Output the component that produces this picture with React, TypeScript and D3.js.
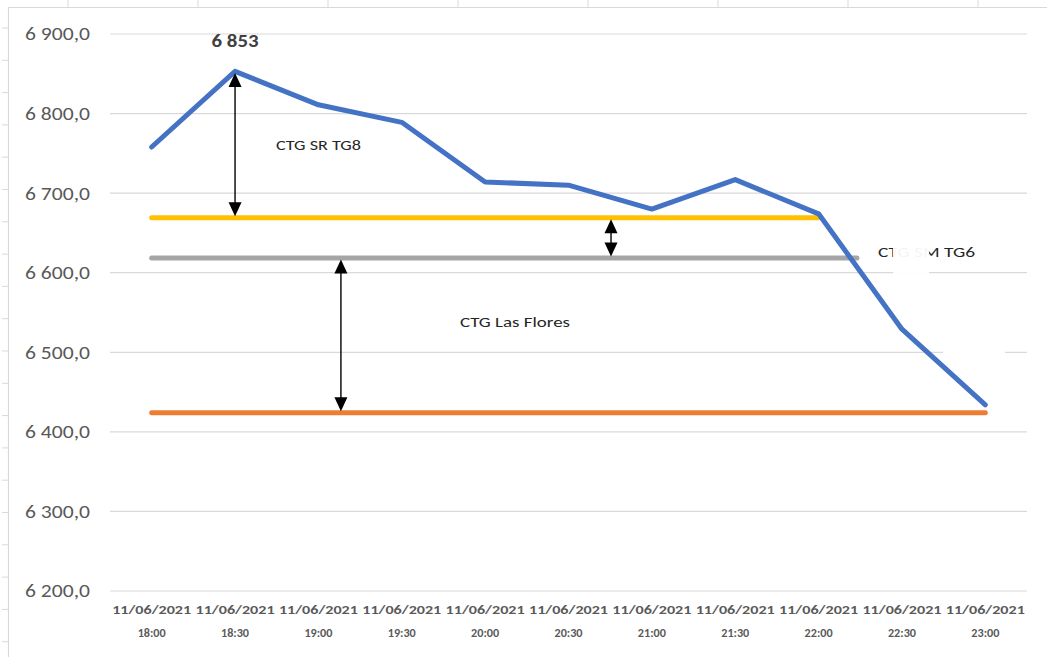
import React from "react";
import * as d3 from "d3";

const categories = ["18:00","18:30","19:00","19:30","20:00","20:30","21:00","21:30","22:00","22:30","23:00"];
const dateLabel = "11/06/2021";
const demand = [6758, 6853, 6811, 6789, 6714, 6710, 6680, 6717, 6674, 6529, 6434];
const yTicks = [6200, 6300, 6400, 6500, 6600, 6700, 6800, 6900];
const peakLabel = "6 853";
// reference levels: value, start index, end index
const levelNames = ["CTG SR TG8", "CTG SM TG6", "CTG Las Flores"];
const levelValues = [6669, 6618.5, 6424];
const levelStart = [0, 0, 0];
const levelEnd = [8, 8.46, 10];
const levelColors = ["#FFC000", "#A5A5A5", "#ED7D31"];
// arrows: category index position, from value, to value
const arrowIdx = [1, 5.51, 2.27];
const arrowFrom = [6853, 6669, 6618.5];
const arrowTo = [6669, 6618.5, 6424];

const W = 1047, H = 657;
const fmtTick = (v: number) => {
  const s = v.toFixed(1).replace(".", ",");
  return s.replace(/^(\d)(\d{3})/, "$1 $2");
};

export default function App() {
  const x = d3.scaleBand<string>().domain(categories).range([110, 1027]).padding(0);
  const bw = x.bandwidth();
  const cx = (i: number) => (x(categories[0]) as number) + bw / 2 + i * bw;
  const y = d3.scaleLinear().domain([6200, 6900]).range([591, 34]);
  const line = d3.line<number>().x((_, i) => cx(i)).y((d) => y(d));

  const arrowHead = (xp: number, yp: number, dir: number) => {
    const len = 14, hw = 6.5;
    return `M${xp},${yp} L${xp - hw},${yp + dir * len} L${xp + hw},${yp + dir * len} Z`;
  };

  const rowMarks = d3.range(28, 657, 32.3);
  const colMarks = d3.range(68, W, 130);
  const font = "Calibri, Carlito, 'Liberation Sans', Arial, sans-serif";

  return (
    <svg width={W} height={H} style={{ position: "absolute", left: 0, top: 0, background: "#fff" }} fontFamily={font}>
      <rect x={0} y={0} width={W} height={H} fill="#fff" />
      {/* sheet borders */}
      {colMarks.map((cxp, i) => (
        <line key={"c" + i} x1={cxp} x2={cxp} y1={0} y2={7} stroke="#d9d9d9" strokeWidth={1} />
      ))}
      <line x1={8} x2={W} y1={7.5} y2={7.5} stroke="#d9d9d9" strokeWidth={1.2} />
      <line x1={8.5} x2={8.5} y1={7} y2={H} stroke="#d9d9d9" strokeWidth={1.2} />
      {rowMarks.map((ry, i) => (
        <line key={"r" + i} x1={2} x2={8} y1={ry} y2={ry} stroke="#d9d9d9" strokeWidth={1} />
      ))}

      {/* gridlines */}
      {yTicks.map((t) => (
        <line key={"g" + t} x1={110} x2={1027} y1={y(t)} y2={y(t)} stroke="#d9d9d9" strokeWidth={1.2} />
      ))}
      {/* y tick labels */}
      {yTicks.map((t) => (
        <text key={"t" + t} x={90} y={y(t)} dy="0.36em" textAnchor="end" fontSize={18} fill="#595959"
          textLength={65} lengthAdjust="spacingAndGlyphs">
          {fmtTick(t)}
        </text>
      ))}
      {/* x labels */}
      {categories.map((c, i) => (
        <g key={"x" + c} fontWeight="bold" fill="#595959">
          <text x={cx(i)} y={614} textAnchor="middle" fontSize={12} textLength={79} lengthAdjust="spacingAndGlyphs">{dateLabel}</text>
          <text x={cx(i)} y={637} textAnchor="middle" fontSize={12} textLength={28} lengthAdjust="spacingAndGlyphs">{c}</text>
        </g>
      ))}

      {/* reference level lines */}
      {levelValues.map((v, i) => (
        <line key={"l" + i} x1={cx(levelStart[i])} x2={cx(levelEnd[i])} y1={y(v)} y2={y(v)}
          stroke={levelColors[i]} strokeWidth={5} strokeLinecap="round" />
      ))}

      {/* main series */}
      <path d={line(demand) || ""} fill="none" stroke="#4472C4" strokeWidth={5} strokeLinejoin="round" strokeLinecap="round" />

      {/* arrows */}
      {arrowIdx.map((ai, i) => {
        const xp = cx(ai);
        const y1 = y(arrowFrom[i]) + 1.5;
        const y2 = y(arrowTo[i]) - 1.5;
        return (
          <g key={"a" + i}>
            <line x1={xp} x2={xp} y1={y1 + 8} y2={y2 - 8} stroke="#000" strokeWidth={1.4} />
            <path d={arrowHead(xp, y1, 1)} fill="#000" />
            <path d={arrowHead(xp, y2, -1)} fill="#000" />
          </g>
        );
      })}

      {/* peak label */}
      <text x={cx(1)} y={41} dy="0.36em" textAnchor="middle" fontWeight="bold" fontSize={17} fill="#404040"
        textLength={47} lengthAdjust="spacingAndGlyphs">{peakLabel}</text>

      {/* annotation labels */}
      <text x={276} y={145} dy="0.36em" fontSize={15} fill="#262626" textLength={85} lengthAdjust="spacingAndGlyphs">{levelNames[0]}</text>
      <text x={878} y={252} dy="0.36em" fontSize={15} fill="#262626" textLength={97} lengthAdjust="spacingAndGlyphs">{levelNames[1]}</text>
      <text x={460} y={322} dy="0.36em" fontSize={15} fill="#262626" textLength={110} lengthAdjust="spacingAndGlyphs">{levelNames[2]}</text>

      {/* white text-box patches as in the reference */}
      <rect x={893} y={236} width={36} height={38} fill="#fff" opacity={0.95} />
      <rect x={943} y={340} width={62} height={20} fill="#fff" />
    </svg>
  );
}
